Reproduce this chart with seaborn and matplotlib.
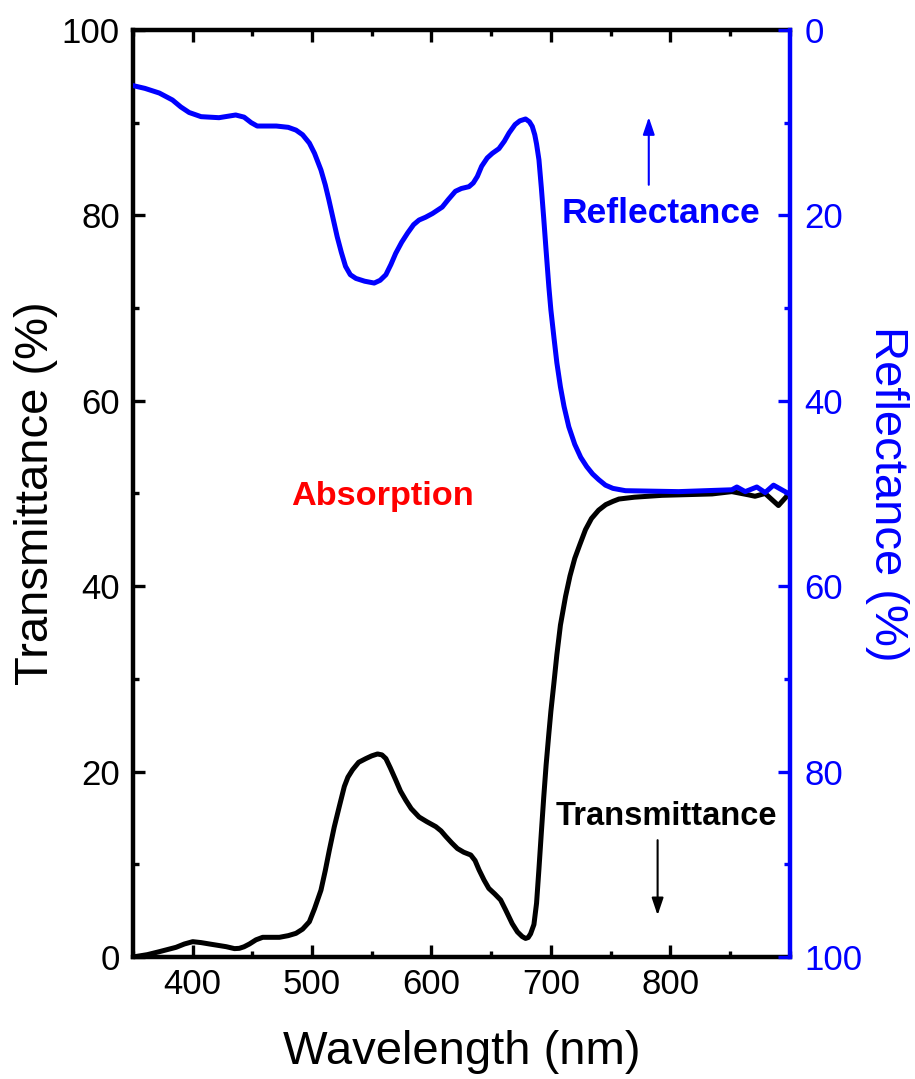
import matplotlib
matplotlib.use('Agg')
import matplotlib.pyplot as plt
from matplotlib.ticker import MultipleLocator, FixedLocator
import seaborn as sns

# ---------------- data ----------------
wl_trans = [350, 362, 372, 386, 393, 400, 407, 414, 428, 435, 439, 443, 447.5, 453,
            458.6, 472.6, 480, 486.5, 492, 497.7, 502, 507.4, 511, 514.4, 518.5,
            522.7, 527, 530, 533.9, 539, 545, 550, 554.8, 558.5, 561.8, 565.5, 570,
            574, 578.5, 583, 589.6, 596, 603.6, 608, 612, 617, 621.7, 627, 632.9,
            636.5, 639.8, 644, 648, 653, 657.9, 662, 667.6, 672, 676, 678.8, 681,
            683, 685.8, 688, 690, 692, 694, 696, 698.3, 700, 702.5, 705, 708, 712.3,
            716, 720, 724, 729, 734, 740, 746, 752, 757, 770, 793, 835, 851.6, 865.6,
            871, 879.5, 890.6, 897.6]
transmittance = [0.0, 0.25, 0.57, 1.04, 1.4, 1.65, 1.55, 1.4, 1.11, 0.9, 0.93, 1.1, 1.4, 1.85,
                 2.12, 2.12, 2.3, 2.55, 3.0, 3.8, 5.2, 7.2, 9.3, 11.5, 14.0,
                 16.2, 18.4, 19.4, 20.2, 21.0, 21.4, 21.7, 21.9, 21.8, 21.4, 20.4, 19.1,
                 17.9, 16.9, 16.0, 15.1, 14.6, 14.06, 13.6, 13.0, 12.3, 11.7, 11.3, 11.0,
                 10.4, 9.4, 8.3, 7.4, 6.8, 6.15, 5.1, 3.6, 2.7, 2.2, 2.0, 2.1,
                 2.5, 3.5, 5.8, 9.5, 13.4, 17.2, 20.7, 24.1, 26.5, 29.5, 32.6, 35.8, 38.9,
                 41.1, 43.0, 44.4, 46.1, 47.3, 48.2, 48.8, 49.15, 49.4, 49.6, 49.8, 49.95, 50.2, 49.85,
                 49.7, 50.0, 48.7, 49.7]

wl_refl = [350, 360, 372, 383, 390, 397, 407, 422, 436, 443, 449, 454, 470, 480, 486.5,
           492, 497.7, 502, 507.4, 511, 514, 517.5, 521, 524.5, 528, 532, 536.7, 544,
           552, 557, 561.8, 566, 570, 575, 580, 585, 589.6, 595, 600.8, 609, 614, 620,
           625, 631.4, 635, 638.4, 642, 646.7, 651, 656.5, 661, 665, 670, 674, 678.8,
           682, 684.4, 686.5, 688, 690, 692, 694, 696, 698.3, 700, 702.5, 705, 708,
           711, 715, 720, 725, 730, 735, 740, 745.7, 752, 762.5, 807, 851.6, 855.8,
           862.8, 872.5, 879.5, 886.5, 893.4, 899]
reflectance = [6.0, 6.3, 6.8, 7.55, 8.3, 8.9, 9.35, 9.46, 9.17, 9.4, 10.0, 10.36, 10.36, 10.5, 10.8,
               11.3, 12.2, 13.3, 15.1, 16.7, 18.3, 20.3, 22.3, 24.0, 25.5, 26.4, 26.8, 27.1,
               27.3, 27.0, 26.4, 25.3, 24.1, 22.9, 21.9, 21.0, 20.5, 20.2, 19.8, 19.1, 18.3, 17.4,
               17.1, 16.9, 16.5, 15.8, 14.7, 13.8, 13.3, 12.8, 12.0, 11.1, 10.2, 9.8, 9.6,
               9.9, 10.4, 11.3, 12.3, 14.0, 17.0, 20.3, 23.8, 27.7, 30.2, 33.1, 35.9, 38.5,
               40.6, 42.8, 44.7, 46.1, 47.1, 47.9, 48.5, 49.1, 49.45, 49.7, 49.8, 49.6, 49.3,
               49.8, 49.3, 49.9, 49.1, 49.6, 50.0]

x_ticks = [400, 500, 600, 700, 800]
y_ticks = [0, 20, 40, 60, 80, 100]

BLUE = '#0000FF'
RED = '#FF0000'

# ---------------- style ----------------
sns.set_style('ticks')
plt.rcParams['font.family'] = ['Liberation Sans', 'DejaVu Sans']

fig = plt.figure(figsize=(9.15, 10.79), dpi=100)
ax = fig.add_axes([0.1454, 0.1131, 0.7176, 0.8591])
ax2 = ax.twinx()

sns.lineplot(x=wl_trans, y=transmittance, ax=ax, color='black', linewidth=3.6,
             sort=False, estimator=None)
sns.lineplot(x=wl_refl, y=reflectance, ax=ax2, color=BLUE, linewidth=3.6,
             sort=False, estimator=None)

ax.set_xlim(350, 900)
ax.set_ylim(0, 100)
ax2.set_ylim(100, 0)

ax.xaxis.set_major_locator(FixedLocator(x_ticks))
ax.xaxis.set_minor_locator(MultipleLocator(50))
ax.yaxis.set_major_locator(FixedLocator(y_ticks))
ax.yaxis.set_minor_locator(MultipleLocator(10))
ax2.yaxis.set_major_locator(FixedLocator(y_ticks))
ax2.yaxis.set_minor_locator(MultipleLocator(10))

for s in ['left', 'top', 'bottom']:
    ax.spines[s].set_color('black')
    ax.spines[s].set_linewidth(3.2)
    ax2.spines[s].set_visible(False)
ax.spines['right'].set_visible(False)
ax2.spines['right'].set_color(BLUE)
ax2.spines['right'].set_linewidth(3.2)

ax.tick_params(axis='both', which='major', direction='in', length=8.6, width=2.4,
               labelsize=25, colors='black', top=True, right=False)
ax.tick_params(axis='both', which='minor', direction='in', length=4.5, width=2.4,
               colors='black', top=True, right=False)
ax.tick_params(axis='x', which='major', pad=8)
ax.tick_params(axis='y', which='major', pad=9.5)
ax2.tick_params(axis='y', which='major', direction='in', length=8.6, width=2.4,
                labelsize=25, colors=BLUE, pad=10.5)
ax2.tick_params(axis='y', which='minor', direction='in', length=4.5, width=2.4,
                colors=BLUE)

ax.set_xlabel('Wavelength (nm)', fontsize=34, color='black')
ax.set_ylabel('Transmittance (%)', fontsize=34, color='black')
ax2.set_ylabel('Reflectance (%)', fontsize=34, color=BLUE, rotation=270)
ax.xaxis.label.set_verticalalignment('center')
ax.xaxis.set_label_coords(0.5, -0.1025)
ax.yaxis.label.set_verticalalignment('center')
ax.yaxis.set_label_coords(-0.148, 0.5)
ax2.yaxis.label.set_verticalalignment('center')
ax2.yaxis.set_label_coords(1.148, 0.5)

ax.grid(False)
ax2.grid(False)

# annotations
ax.text(792, 79.2, 'Reflectance', color=BLUE, fontsize=25.5, fontweight='bold',
        ha='center', va='baseline')
ax.text(797, 14.24, 'Transmittance', color='black', fontsize=23.5, fontweight='bold',
        ha='center', va='baseline')
ax.text(558.6, 48.8, 'Absorption', color=RED, fontsize=24.7, fontweight='bold',
        ha='center', va='baseline')

ax.annotate('', xy=(782, 90.6), xytext=(782, 83.3),
            arrowprops=dict(arrowstyle='-|>,head_length=0.65,head_width=0.22',
                            color=BLUE, lw=1.5, mutation_scale=16,
                            shrinkA=0, shrinkB=0))
ax.annotate('', xy=(789.4, 4.5), xytext=(789.4, 12.6),
            arrowprops=dict(arrowstyle='-|>,head_length=0.65,head_width=0.22',
                            color='black', lw=1.5, mutation_scale=16,
                            shrinkA=0, shrinkB=0))

fig.savefig('out.png', dpi=100)
